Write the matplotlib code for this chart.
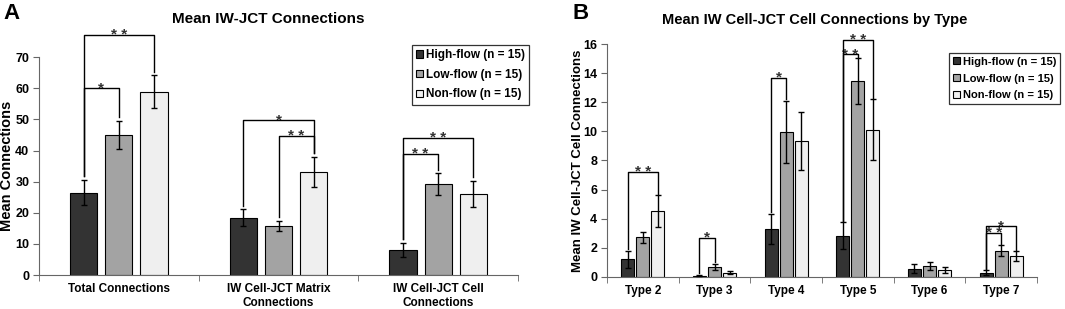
import numpy as np
from matplotlib import pyplot as plt

groups = ['High-flow (n = 15)', 'Low-flow (n = 15)', 'Non-flow (n = 15)']
colors = ['#333333', '#a3a3a3', '#efefef']

cats_a = ['Total Connections', 'IW Cell-JCT Matrix\nConnections', 'IW Cell-JCT Cell\nConnections']
mean_a = [[26.5, 18.4, 8.1],
          [45.0, 15.8, 29.2],
          [59.0, 33.2, 26.1]]
err_a = [[4.0, 2.7, 2.2],
         [4.5, 1.7, 3.5],
         [5.2, 4.8, 4.2]]
# (category, group1, group2, bracket height, label)
sig_a = [(0, 0, 1, 60.0, '*'), (0, 0, 2, 77.3, '* *'),
         (1, 0, 2, 49.8, '*'), (1, 1, 2, 44.7, '* *'),
         (2, 0, 1, 38.9, '* *'), (2, 0, 2, 44.2, '* *')]

cats_b = ['Type 2', 'Type 3', 'Type 4', 'Type 5', 'Type 6', 'Type 7']
mean_b = [[1.2, 0.08, 3.28, 2.82, 0.56, 0.27],
          [2.7, 0.68, 9.95, 13.48, 0.74, 1.80],
          [4.5, 0.28, 9.35, 10.10, 0.47, 1.42]]
err_b = [[0.6, 0.05, 1.05, 0.92, 0.28, 0.18],
         [0.4, 0.22, 2.15, 1.58, 0.25, 0.35],
         [1.1, 0.12, 2.0, 2.1, 0.2, 0.33]]
sig_b = [(0, 0, 2, 7.19, '* *'), (1, 0, 1, 2.69, '*'),
         (2, 0, 1, 13.7, '*'), (3, 0, 1, 15.3, '* *'), (3, 0, 2, 16.3, '* *'),
         (5, 0, 1, 3.0, '* *'), (5, 0, 2, 3.5, '*')]

W, H = 1065, 309
fig = plt.figure(figsize=(W / 100, H / 100), dpi=100)
plt.rcParams['font.family'] = 'Liberation Sans'


def panel(rect, cats, means, errs, sigs, ymax, ystep, ylabel, lsize, lx,
          step, width, gap, leg_pos, legsize, legspace):
    ax = fig.add_axes(rect)
    x = np.arange(len(cats))
    for g in range(3):
        ax.bar(x + (g - 1) * step, means[g], width, color=colors[g], edgecolor='black',
               linewidth=0.8, label=groups[g], zorder=2)
        ax.errorbar(x + (g - 1) * step, means[g], yerr=errs[g], fmt='none', ecolor='black',
                    elinewidth=1, capsize=2.5, capthick=1, zorder=3)
    for c, g1, g2, h, lab in sigs:
        x1 = c + (g1 - 1) * step
        x2 = c + (g2 - 1) * step
        y1 = means[g1][c] + errs[g1][c] + gap
        y2 = means[g2][c] + errs[g2][c] + gap
        ax.plot([x1, x1, x2, x2], [y1, h, h, y2], color='black', lw=1, clip_on=False, zorder=4)
        ax.annotate(lab, xy=((x1 + x2) / 2, h), xytext=(0, -3), textcoords='offset points',
                    ha='center', va='baseline', fontsize=11, fontweight='bold', color='#333333',
                    annotation_clip=False)
    ax.set_xlim(-0.5, len(cats) - 0.5)
    ax.set_ylim(0, ymax)
    ax.set_yticks(np.arange(0, ymax + ystep / 2, ystep))
    ax.set_xticks(x)
    ax.set_xticklabels(cats, fontsize=8.5, fontweight='bold')
    ax.set_xticks(np.arange(-0.5, len(cats)), minor=True)
    ax.tick_params(axis='x', which='major', length=0, pad=6)
    ax.tick_params(axis='x', which='minor', length=4, color='#666666')
    ax.tick_params(axis='y', length=4, color='#666666', labelsize=9, pad=3)
    for t in ax.get_yticklabels():
        t.set_fontweight('bold')
    for s in ['top', 'right']:
        ax.spines[s].set_visible(False)
    for s in ['left', 'bottom']:
        ax.spines[s].set_color('#666666')
    ax.set_ylabel(ylabel, fontsize=lsize, fontweight='bold')
    ax.yaxis.set_label_coords((lx - rect[0] * W) / (rect[2] * W), 0.5)
    leg = ax.legend(loc='upper right', bbox_to_anchor=leg_pos, bbox_transform=fig.transFigure,
                    prop={'size': legsize, 'weight': 'bold'}, handlelength=0.6, handleheight=0.6,
                    handletextpad=0.25, labelspacing=legspace, borderpad=0.35, borderaxespad=0,
                    fancybox=False, edgecolor='black')
    leg.get_frame().set_linewidth(0.9)
    return ax


axa = panel([39 / W, 1 - 275 / H, 479 / W, 217.7 / H], cats_a, mean_a, err_a, sig_a,
            70, 10, 'Mean Connections', 10.5, 14,
            0.22, 0.17, 1.2, (529 / W, 1 - 45 / H), 8.5, 0.65)
axb = panel([607 / W, 1 - 276.7 / H, 430 / W, 232.4 / H], cats_b, mean_b, err_b, sig_b,
            16, 2, 'Mean IW Cell-JCT Cell Connections', 9.5, 584,
            0.21, 0.18, 0.1, (1060 / W, 1 - 53 / H), 8, 0.6)

fig.text(268 / W, 1 - 19 / H, 'Mean IW-JCT Connections', fontsize=11, fontweight='bold',
         ha='center', va='center')
fig.text(815 / W, 1 - 20 / H, 'Mean IW Cell-JCT Cell Connections by Type', fontsize=10.5,
         fontweight='bold', ha='center', va='center')
fig.text(3 / W, 1 - 3 / H, 'A', fontsize=16, fontweight='bold', va='top', ha='left')
fig.text(572 / W, 1 - 3 / H, 'B', fontsize=16, fontweight='bold', va='top', ha='left')

fig.savefig('out.png', dpi=100)
